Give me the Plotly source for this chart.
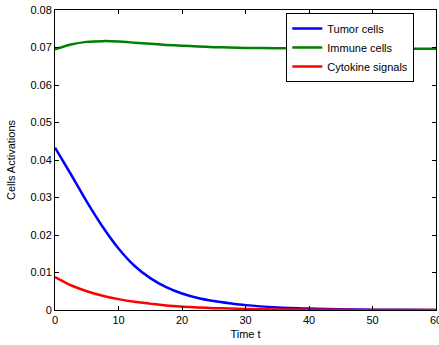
import plotly.graph_objects as go

t = [0, 2.5, 5, 7.5, 10, 12.5, 15, 17.5, 20, 22.5, 25, 27.5, 30, 35, 40, 45, 50, 55, 60]
tumor = [0.0433, 0.0362, 0.0289, 0.0222, 0.0164, 0.0118, 0.0085, 0.0061, 0.0044, 0.0032,
         0.0024, 0.0018, 0.0013, 0.0007, 0.0004, 0.0002, 0.0001, 0.00005, 0.00003]
immune = [0.0695, 0.0708, 0.0715, 0.0717, 0.0716, 0.0713, 0.0710, 0.0707, 0.0705, 0.0703,
          0.0701, 0.0700, 0.0699, 0.0698, 0.0698, 0.0697, 0.0697, 0.0697, 0.0697]
cytokine = [0.0088, 0.0066, 0.0050, 0.0038, 0.0029, 0.0022, 0.0017, 0.0012, 0.0009, 0.0007,
            0.0005, 0.0004, 0.0003, 0.00015, 0.00008, 0.00004, 0.00002, 0.00001, 0.00001]

names = ["Tumor cells", "Immune cells", "Cytokine signals"]
colors = ["#0000ff", "#008000", "#ff0000"]
series = [tumor, immune, cytokine]

fig = go.Figure()
for name, col, ys in zip(names, colors, series):
    fig.add_trace(go.Scatter(x=t, y=ys, mode="lines", name=name,
                             line=dict(color=col, width=2.5, shape="spline", smoothing=0.6)))

font = dict(family="Liberation Sans, Arial, sans-serif", size=11, color="black")
fig.update_layout(
    width=439, height=345,
    margin=dict(l=55, r=3, t=10, b=35, autoexpand=False),
    paper_bgcolor="white", plot_bgcolor="white",
    font=font,
    showlegend=True,
    legend=dict(x=0.607, y=0.99, xanchor="left", yanchor="top",
                bordercolor="black", borderwidth=1, bgcolor="white",
                font=font, itemwidth=30, tracegroupgap=0),
)
fig.update_xaxes(range=[0, 60], dtick=10, tick0=0, showgrid=False, zeroline=False,
                 showline=True, linecolor="black", linewidth=1, mirror="ticks",
                 ticks="inside", ticklen=4, tickcolor="black", automargin=False,
                 ticklabeloverflow="allow",
                 title=dict(text="Time t", font=font, standoff=5))
fig.update_yaxes(range=[0, 0.08], dtick=0.01, tick0=0, showgrid=False, zeroline=False,
                 showline=True, linecolor="black", linewidth=1, mirror="ticks",
                 ticks="inside", ticklen=4, tickcolor="black", automargin=False,
                 ticklabeloverflow="allow",
                 title=dict(text="Cells Activations", font=font, standoff=12))

fig.write_html("out.html", config={"responsive": False, "displayModeBar": False})
with open("out.html", encoding="utf-8") as f:
    html = f.read()
html = html.replace("<head>", "<head><style>html,body{margin:0;padding:0;overflow:hidden;}</style>", 1)
with open("out.html", "w", encoding="utf-8") as f:
    f.write(html)
